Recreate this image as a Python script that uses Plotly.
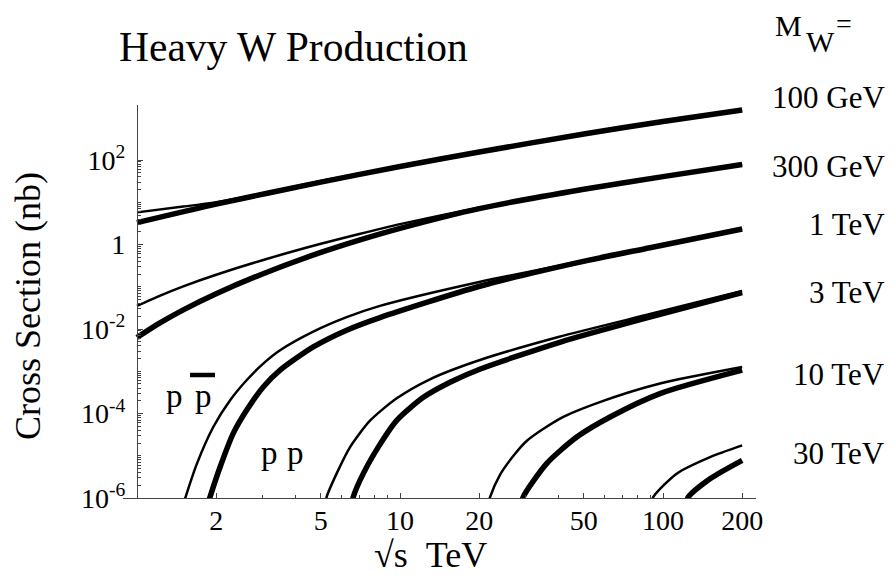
import plotly.graph_objects as go

# ---------------- data ----------------
# sqrt(s) in TeV, cross section in nb.  thin = p pbar, thick = p p
x_100_ppbar = [1, 1.5, 2, 3, 5, 10, 20, 50, 100, 200]
y_100_ppbar = [5.77, 7.9, 10.1, 16.1, 31.8, 70.5, 155, 413, 817, 1530]
x_100_pp = [1, 2, 5, 10, 20, 50, 100, 200]
y_100_pp = [3.3, 9.06, 30.1, 70.2, 155, 413, 817, 1530]

x_300_ppbar = [1, 1.2, 1.5, 2, 3, 5, 7, 10, 20, 50, 100, 200]
y_300_ppbar = [0.0352, 0.0587, 0.1026, 0.193, 0.426, 1.04, 1.78, 3.04, 7.48, 20.5, 41.0, 79.3]
x_300_pp = [1, 1.2, 1.5, 2, 3, 5, 7, 10, 20, 50, 100, 200]
y_300_pp = [0.00629, 0.01306, 0.0285, 0.0686, 0.201, 0.650, 1.274, 2.42, 7.10, 20.3, 40.5, 78.5]

x_1000_ppbar = [1.51, 1.53, 1.69, 1.95, 2.26, 2.61, 3.02, 3.5, 4.68, 6.27, 8.39, 20, 48, 89, 200]
y_1000_ppbar = [8e-7, 1.05e-6, 6.5e-6, 4.79e-5, 2.06e-4, 6.12e-4, 1.52e-3, 3.15e-3,
                8.69e-3, 0.0191, 0.0353, 0.130, 0.394, 0.863, 2.38]
x_1000_pp = [1.87, 1.895, 2.07, 2.32, 2.61, 3.02, 3.5, 4.68, 6.27, 8.39, 20.1, 48.3, 89.2, 200]
y_1000_pp = [8e-7, 1.05e-6, 5.4e-6, 3.34e-5, 1.19e-4, 4.25e-4, 1.06e-3, 3.77e-3,
             9.4e-3, 0.0187, 0.103, 0.383, 0.841, 2.34]

x_3000_ppbar = [5.2, 5.26, 5.74, 6.45, 7.69, 9.72, 13.0, 20.0, 40.0, 90.0, 200]
y_3000_ppbar = [6.3e-7, 1.05e-6, 3.77e-6, 1.58e-5, 6.76e-5, 2.29e-4, 6.46e-4,
                1.82e-3, 6.46e-3, 0.0229, 0.0794]
x_3000_pp = [6.55, 6.64, 7.25, 8.39, 9.72, 12.27, 15.5, 20.1, 40.5, 89, 200]
y_3000_pp = [6.3e-7, 1.05e-6, 3.77e-6, 1.86e-5, 6.9e-5, 2.42e-4, 5.5e-4, 1.12e-3,
             4.86e-3, 0.0191, 0.0724]

x_10000_ppbar = [21.6, 22.0, 24.0, 27.0, 30.3, 40.6, 57.5, 97.4, 200]
y_10000_ppbar = [6.3e-7, 1.05e-6, 3.55e-6, 1.0e-5, 2.24e-5, 7.59e-5, 1.86e-4, 5.13e-4, 1.26e-3]
x_10000_pp = [28.9, 29.4, 36.1, 47.0, 62.9, 97.4, 200]
y_10000_pp = [6.3e-7, 1.05e-6, 6.5e-6, 2.77e-5, 8.26e-5, 2.96e-4, 1.06e-3]

x_30000_ppbar = [90, 91.8, 112.7, 151, 200]
y_30000_ppbar = [6.3e-7, 1.05e-6, 3.77e-6, 9.3e-6, 1.76e-5]
x_30000_pp = [122, 124.8, 151, 200]
y_30000_pp = [6.3e-7, 1.05e-6, 2.86e-6, 7.8e-6]

mass_labels = ["100 GeV", "300 GeV", "1 TeV", "3 TeV", "10 TeV", "30 TeV"]
x_tick_vals = [2, 5, 10, 20, 50, 100, 200]
x_tick_text = ["2", "5", "10", "20", "50", "100", "200"]
y_tick_vals = [1e-6, 1e-4, 1e-2, 1, 1e2]
y_tick_text = ["10<sup>-6</sup>", "10<sup>-4</sup>", "10<sup>-2</sup>", "1", "10<sup>2</sup>"]

# ---------------- layout helpers ----------------
FIG_W, FIG_H = 894, 578
ML, MR, MT, MB = 123, 138, 105, 80
PW = FIG_W - ML - MR
PH = FIG_H - MT - MB
FONT = "Liberation Serif, Times New Roman, serif"


def pxx(px):
    return (px - ML) / PW


def pxy(py):
    return (FIG_H - MB - py) / PH


fig = go.Figure()

curves = [
    (x_100_ppbar, y_100_ppbar, x_100_pp, y_100_pp),
    (x_300_ppbar, y_300_ppbar, x_300_pp, y_300_pp),
    (x_1000_ppbar, y_1000_ppbar, x_1000_pp, y_1000_pp),
    (x_3000_ppbar, y_3000_ppbar, x_3000_pp, y_3000_pp),
    (x_10000_ppbar, y_10000_ppbar, x_10000_pp, y_10000_pp),
    (x_30000_ppbar, y_30000_ppbar, x_30000_pp, y_30000_pp),
]
for (xa, ya, xb, yb), name in zip(curves, mass_labels):
    fig.add_trace(go.Scatter(x=xa, y=ya, mode="lines", name=name + " p pbar",
                             line=dict(color="black", width=2.5, shape="spline", smoothing=0.7),
                             showlegend=False))
    fig.add_trace(go.Scatter(x=xb, y=yb, mode="lines", name=name + " p p",
                             line=dict(color="black", width=5.5, shape="spline", smoothing=0.7),
                             showlegend=False))

# minor ticks
y_minor = []
for e in range(-6, 2):
    for k in range(2, 10):
        y_minor.append(k * 10.0 ** e)
for e in (-5, -3, -1, 1):
    y_minor.append(10.0 ** e)
x_minor = [3, 4, 6, 7, 8, 9, 30, 40, 60, 70, 80, 90]

axis_col = "#444444"
fig.update_xaxes(
    type="log", range=[-0.0532, 2.3536], showline=True, linecolor=axis_col, linewidth=1.3,
    showgrid=False, zeroline=False, ticks="inside", ticklen=5, tickwidth=1, tickcolor=axis_col,
    tickvals=x_tick_vals, ticktext=x_tick_text, ticklabelstandoff=-3,
    tickfont=dict(family=FONT, size=28, color="black"),
    minor=dict(tickvals=x_minor, ticks="inside", ticklen=3, tickwidth=1, tickcolor=axis_col, showgrid=False),
)
fig.update_yaxes(
    type="log", range=[-6, 3.303], anchor="free", position=pxx(137),
    showline=True, linecolor=axis_col, linewidth=1.3,
    showgrid=False, zeroline=False, ticks="inside", ticklen=5, tickwidth=1, tickcolor=axis_col,
    tickvals=y_tick_vals, ticktext=y_tick_text, ticklabelstandoff=6,
    tickfont=dict(family=FONT, size=28, color="black"),
    minor=dict(tickvals=y_minor, ticks="inside", ticklen=3, tickwidth=1, tickcolor=axis_col, showgrid=False),
)

ann = []


def text(px, py, s, size, xanchor="center", angle=0):
    ann.append(dict(x=pxx(px), y=pxy(py), xref="paper", yref="paper", text=s, showarrow=False,
                    xanchor=xanchor, yanchor="middle", textangle=angle,
                    font=dict(family=FONT, size=size, color="black")))


text(117, 47, "Heavy W Production", 41.5, xanchor="left")
text(28, 306, "Cross Section (nb)", 36, angle=-90)
text(430, 555, "\u221as\u00a0\u00a0TeV", 36)
# M_W =
text(773, 26, "M", 30, xanchor="left")
text(804, 41, "W", 30, xanchor="left")
text(834, 23, "=", 28, xanchor="left")
for lbl, py in zip(mass_labels, [97, 166, 224, 292, 374, 453]):
    text(887, py, lbl, 31, xanchor="right")
# process labels
text(174, 396, "p", 33)
text(203, 396, "p", 33)
text(269, 453, "p", 33)
text(295, 453, "p", 33)

fig.update_layout(
    width=FIG_W, height=FIG_H,
    margin=dict(l=ML, r=MR, t=MT, b=MB),
    paper_bgcolor="white", plot_bgcolor="white",
    annotations=ann,
    shapes=[dict(type="line", xref="paper", yref="paper",
                 x0=pxx(190), x1=pxx(215), y0=pxy(375), y1=pxy(375),
                 line=dict(color="black", width=4.5))],
)
fig.write_html("out.html", config={"displayModeBar": False},
               post_script="document.body.style.margin='0';document.body.style.padding='0';")
